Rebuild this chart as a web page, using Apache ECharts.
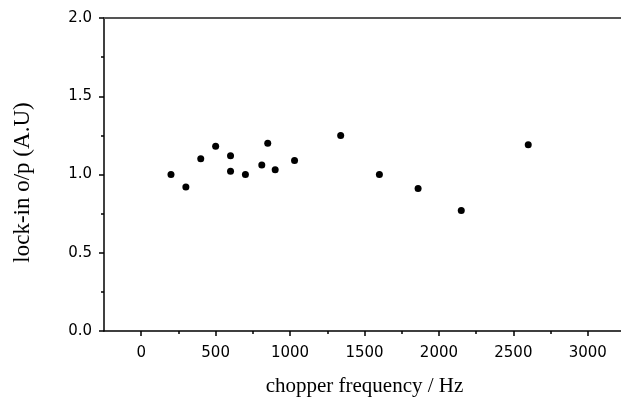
<!DOCTYPE html>
<html>
<head>
<meta charset="utf-8">
<script src="https://cdn.jsdelivr.net/npm/echarts@6/dist/echarts.min.js"></script>
<style>
  html, body { margin: 0; padding: 0; background: #fff; }
</style>
</head>
<body>
<div id="chart" style="width:621px;height:399px"></div>
<script>
  // chopper frequency (Hz) and lock-in output (A.U)
  let freqHz = [200, 300, 400, 500, 600, 600, 700, 810, 850, 900, 1030, 1340, 1600, 1860, 2150, 2600]
  let lockinOut = [1.00, 0.92, 1.10, 1.18, 1.12, 1.02, 1.00, 1.06, 1.20, 1.03, 1.09, 1.25, 1.00, 0.91, 0.77, 1.19]

  let xMajorTicks = [0, 500, 1000, 1500, 2000, 2500, 3000]
  let xMinorTicks = [250, 750, 1250, 1750, 2250, 2750]

  let chartDom = echarts.init(document.getElementById('chart'))
  let colors = ['#000000', '#555555']
  let tickFont = 'DejaVu Sans'
  let nameFont = 'Liberation Serif'

  let points = freqHz.map(function (f, i) {
    return [f, lockinOut[i]]
  })

  let optionData = {
    animation: false,
    grid: {
      left: 104,
      top: 18,
      right: -4,
      bottom: 68,
      outerBoundsMode: 'none'
    },
    xAxis: [
      {
        type: 'value',
        min: -250,
        max: 3250,
        position: 'bottom',
        name: 'chopper frequency / Hz',
        nameLocation: 'middle',
        nameGap: 45,
        nameTextStyle: { color: colors[0], fontFamily: nameFont, fontSize: 21 },
        axisLine: { show: true, onZero: false, lineStyle: { color: colors[0], width: 1.5 } },
        axisTick: { show: true, customValues: xMajorTicks, length: 5, lineStyle: { color: colors[0], width: 1.5 } },
        axisLabel: {
          customValues: xMajorTicks,
          margin: 15,
          color: colors[0],
          fontFamily: tickFont,
          fontSize: 15,
          formatter: function (v) { return String(v) }
        },
        splitLine: { show: false }
      },
      {
        // minor ticks only
        type: 'value',
        min: -250,
        max: 3250,
        position: 'bottom',
        axisLine: { show: false },
        axisTick: { show: true, customValues: xMinorTicks, length: 3, lineStyle: { color: colors[0], width: 1.5 } },
        axisLabel: { show: false },
        splitLine: { show: false }
      },
      {
        // top frame line
        type: 'value',
        min: -250,
        max: 3250,
        position: 'top',
        axisLine: { show: true, onZero: false, lineStyle: { color: colors[1], width: 2 } },
        axisTick: { show: false },
        axisLabel: { show: false },
        splitLine: { show: false }
      }
    ],
    yAxis: [
      {
        type: 'value',
        min: 0,
        max: 2,
        interval: 0.5,
        name: 'lock-in o/p (A.U)',
        nameLocation: 'middle',
        nameGap: 70,
        nameTextStyle: { color: colors[0], fontFamily: nameFont, fontSize: 23, padding: [0, 16, 0, 0] },
        axisLine: { show: true, onZero: false, lineStyle: { color: colors[0], width: 1.5 } },
        axisTick: { show: true, length: 5, lineStyle: { color: colors[0], width: 1.5 } },
        minorTick: { show: true, splitNumber: 2, length: 3, lineStyle: { color: colors[0], width: 1.5 } },
        axisLabel: {
          margin: 12,
          color: colors[0],
          fontFamily: tickFont,
          fontSize: 15,
          formatter: function (v) { return v.toFixed(1) }
        },
        splitLine: { show: false }
      }
    ],
    series: [
      {
        type: 'scatter',
        xAxisIndex: 0,
        yAxisIndex: 0,
        symbol: 'circle',
        symbolSize: 7,
        itemStyle: { color: colors[0], opacity: 1 },
        data: points
      }
    ]
  }

  chartDom.setOption(optionData)
</script>
</body>
</html>
